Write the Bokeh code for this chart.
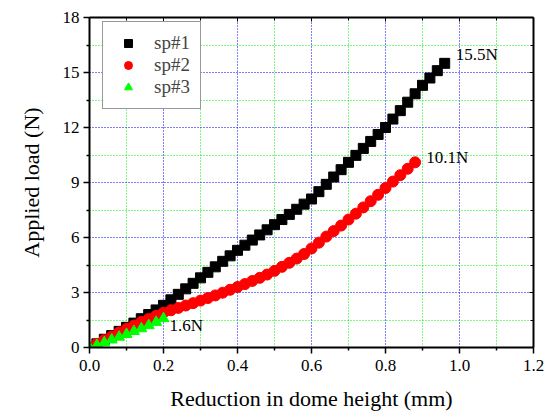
from bokeh.plotting import figure
from bokeh.models import (ColumnDataSource, LinearAxis, FixedTicker, Range1d,
                          NumeralTickFormatter, Legend, LegendItem)
from bokeh.core.properties import value
from bokeh.embed import file_html
from bokeh.resources import INLINE

# ---- data ----
sp1_x = [0.00, 0.02, 0.04, 0.06, 0.08, 0.10, 0.12, 0.14, 0.16, 0.18, 0.20, 0.22, 0.24, 0.26,
         0.28, 0.30, 0.32, 0.34, 0.36, 0.38, 0.40, 0.42, 0.44, 0.46, 0.48, 0.50, 0.52, 0.54,
         0.56, 0.58, 0.60, 0.62, 0.64, 0.66, 0.68, 0.70, 0.72, 0.74, 0.76, 0.78, 0.80, 0.82,
         0.84, 0.86, 0.88, 0.90, 0.92, 0.94, 0.96]
sp1_y = [0.0, 0.2, 0.45, 0.65, 0.88, 1.1, 1.33, 1.57, 1.8, 2.05, 2.3, 2.6, 2.9, 3.2,
         3.5, 3.8, 4.1, 4.4, 4.7, 5.0, 5.3, 5.58, 5.86, 6.14, 6.42, 6.7, 6.98, 7.26,
         7.54, 7.82, 8.1, 8.5, 8.9, 9.3, 9.7, 10.1, 10.48, 10.86, 11.24, 11.62, 12.0, 12.46,
         12.92, 13.38, 13.84, 14.3, 14.7, 15.1, 15.5]

sp2_x = [0.00, 0.02, 0.04, 0.06, 0.08, 0.10, 0.12, 0.14, 0.16, 0.18, 0.20, 0.22, 0.24, 0.26,
         0.28, 0.30, 0.32, 0.34, 0.36, 0.38, 0.40, 0.42, 0.44, 0.46, 0.48, 0.50, 0.52, 0.54,
         0.56, 0.58, 0.60, 0.62, 0.64, 0.66, 0.68, 0.70, 0.72, 0.74, 0.76, 0.78, 0.80, 0.82,
         0.84, 0.86, 0.88]
sp2_y = [0.0, 0.2, 0.4, 0.6, 0.82, 1.02, 1.2, 1.4, 1.56, 1.73, 1.9, 2.03, 2.16, 2.29,
         2.42, 2.56, 2.7, 2.84, 2.99, 3.15, 3.3, 3.46, 3.63, 3.8, 3.98, 4.18, 4.4, 4.62,
         4.85, 5.1, 5.4, 5.72, 6.05, 6.35, 6.65, 6.98, 7.3, 7.64, 7.98, 8.33, 8.7, 9.05,
         9.4, 9.75, 10.1]

sp3_x = [0.00, 0.02, 0.04, 0.06, 0.08, 0.10, 0.12, 0.14, 0.16, 0.18, 0.20]
sp3_y = [0.0, 0.12, 0.27, 0.42, 0.57, 0.72, 0.88, 1.03, 1.2, 1.38, 1.58]

series_names = ["sp#1", "sp#2", "sp#3"]
label_x = [0.99, 0.91, 0.216]
label_y = [16.0, 10.37, 1.2]
label_text = ["15.5N", "10.1N", "1.6N"]

x_ticks = [0.0, 0.2, 0.4, 0.6, 0.8, 1.0, 1.2]
x_minor = [0.1, 0.3, 0.5, 0.7, 0.9, 1.1]
y_ticks = [0, 3, 6, 9, 12, 15, 18]
y_minor = [1.5, 4.5, 7.5, 10.5, 13.5, 16.5]

FONT = "Liberation Serif"

p = figure(width=545, height=413, output_backend="svg", toolbar_location=None,
           x_range=Range1d(0, 1.2), y_range=Range1d(0, 18),
           min_border_left=89, min_border_right=12, min_border_top=17, min_border_bottom=63)
p.outline_line_color = None
p.background_fill_color = "white"
p.border_fill_color = "white"
p.xaxis.visible = False
p.yaxis.visible = False

xt = FixedTicker(ticks=x_ticks, minor_ticks=x_minor)
yt = FixedTicker(ticks=y_ticks, minor_ticks=y_minor)

common = dict(axis_line_width=2, axis_line_color="black",
              major_tick_line_width=1.5, minor_tick_line_width=1.5,
              major_label_text_font=FONT, major_label_text_font_size="17px",
              major_label_text_color="black",
              axis_label_text_font=FONT, axis_label_text_font_size="22px",
              axis_label_text_font_style="normal", axis_label_text_color="black")

xb = LinearAxis(ticker=xt, formatter=NumeralTickFormatter(format="0.0"),
                axis_label="Reduction in dome height (mm)",
                major_tick_out=6, major_tick_in=0, minor_tick_out=3, minor_tick_in=0,
                major_label_standoff=6, axis_label_standoff=12, **common)
yl = LinearAxis(ticker=yt, axis_label="Applied load (N)",
                major_tick_out=6, major_tick_in=0, minor_tick_out=3, minor_tick_in=0,
                major_label_standoff=4, axis_label_standoff=16, **common)
p.add_layout(xb, "below")
p.add_layout(yl, "left")

for loc, tk in (("above", xt), ("right", yt)):
    ax = LinearAxis(ticker=tk, axis_line_width=2, major_tick_in=4, major_tick_out=0,
                    minor_tick_in=3, minor_tick_out=0, major_label_text_alpha=0,
                    major_label_text_font_size="1px", major_label_standoff=0)
    p.add_layout(ax, loc)

p.xgrid.ticker = xt
p.ygrid.ticker = yt
for g in (p.xgrid[0], p.ygrid[0]):
    g.grid_line_color = "#0000ff"
    g.grid_line_dash = "1 2"
    g.grid_line_width = 1
    g.minor_grid_line_color = "#00ee00"
    g.minor_grid_line_dash = "1 2"
    g.minor_grid_line_width = 1

r1 = p.scatter(sp1_x, sp1_y, marker="square", size=10, fill_color="black", line_color="black")
r2 = p.scatter(sp2_x, sp2_y, marker="circle", size=11, fill_color="#ff0000", line_color="#ff0000")
r3 = p.scatter(sp3_x, sp3_y, marker="triangle", size=11, fill_color="#00ff00", line_color="#00ff00")

src = ColumnDataSource(dict(x=label_x, y=label_y, t=label_text))
p.text(x="x", y="y", text="t", source=src, text_font=value(FONT), text_font_size="17px",
       text_baseline="middle", text_align="left", text_color="black")

legend = Legend(items=[LegendItem(label=series_names[0], renderers=[r1]),
                       LegendItem(label=series_names[1], renderers=[r2]),
                       LegendItem(label=series_names[2], renderers=[r3])],
                location=(13, 238))
legend.border_line_color = "#333333"
legend.border_line_width = 1
legend.background_fill_alpha = 1
legend.label_text_font = FONT
legend.label_text_font_size = "19px"
legend.glyph_width = 30
legend.glyph_height = 20
legend.label_standoff = 11
legend.padding = 10
legend.spacing = 0
legend.margin = 0
p.add_layout(legend, "center")

open("out.html", "w").write(file_html(p, INLINE))
